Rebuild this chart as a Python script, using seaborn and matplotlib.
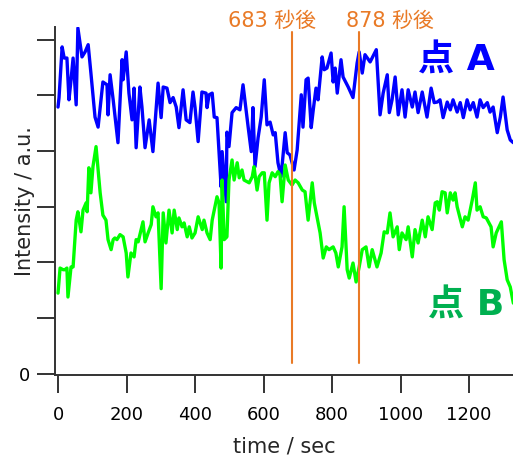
import numpy as np
import pandas as pd
import matplotlib
matplotlib.use("Agg")
import matplotlib.pyplot as plt
import seaborn as sns

# 点 A (blue)
time_a = [0, 3, 12, 18, 26, 32, 38, 44, 53, 58,
          70, 79, 88, 96, 108, 117, 131, 143, 146, 152,
          161, 175, 187, 190, 199, 207, 216, 222, 228, 239,
          245, 254, 266, 277, 292, 301, 307, 318, 327, 336,
          345, 353, 365, 374, 385, 394, 400, 409, 420, 432,
          435, 441, 450, 456, 464, 476, 479, 491, 493, 499,
          508, 520, 531, 540, 546, 555, 564, 569, 575, 584,
          593, 602, 610, 619, 628, 634, 642, 651, 663, 669,
          677, 689, 698, 710, 715, 724, 730, 739, 745, 753,
          759, 771, 777, 785, 797, 803, 809, 815, 826, 832,
          847, 861, 873, 879, 888, 896, 911, 929, 940, 949,
          961, 967, 975, 984, 993, 1004, 1013, 1022, 1034, 1042,
          1051, 1063, 1077, 1089, 1098, 1107, 1115, 1124, 1136, 1145,
          1153, 1165, 1174, 1183, 1194, 1203, 1212, 1223, 1232, 1241,
          1253, 1261, 1270, 1282, 1291, 1299, 1311, 1320, 1329]
int_a = [4.79, 4.96, 5.87, 5.67, 5.67, 4.92, 5.28, 5.67, 4.83, 6.21,
         5.69, 5.78, 5.91, 5.40, 4.61, 4.43, 5.24, 5.19, 4.65, 5.37,
         4.92, 4.15, 5.64, 5.28, 5.78, 5.04, 4.56, 5.13, 4.06, 5.15,
         4.79, 4.06, 4.56, 3.99, 5.22, 4.60, 5.15, 5.13, 4.87, 4.96,
         4.79, 4.42, 5.10, 4.56, 4.51, 5.06, 4.78, 4.17, 5.06, 5.04,
         4.78, 5.01, 5.04, 4.61, 4.60, 3.36, 3.99, 3.09, 4.34, 4.08,
         4.69, 4.78, 4.74, 5.19, 4.88, 4.43, 3.99, 4.78, 3.72, 4.24,
         4.61, 5.28, 4.47, 4.52, 4.29, 4.33, 3.79, 3.54, 4.33, 3.97,
         3.93, 3.66, 4.02, 5.01, 4.43, 5.28, 5.31, 4.42, 4.74, 5.13,
         4.92, 5.69, 5.46, 5.49, 5.76, 5.24, 5.49, 5.04, 5.64, 5.33,
         5.15, 4.96, 5.58, 5.78, 5.40, 5.73, 5.60, 5.82, 4.65, 5.04,
         5.37, 4.69, 4.92, 5.33, 4.65, 5.10, 4.61, 5.10, 4.79, 5.06,
         4.69, 5.06, 4.61, 5.13, 4.87, 4.88, 4.92, 4.60, 4.88, 4.74,
         4.92, 4.70, 4.87, 4.60, 4.92, 4.74, 4.87, 4.61, 4.92, 4.78,
         4.87, 4.70, 4.79, 4.33, 4.61, 4.97, 4.38, 4.20, 4.15]

# 点 B (green)
time_b = [0, 6, 15, 20, 26, 29, 38, 44, 53, 58,
          67, 73, 82, 85, 90, 96, 102, 111, 117, 123,
          131, 140, 146, 155, 161, 166, 172, 181, 190, 199,
          204, 213, 222, 228, 234, 248, 254, 263, 272, 277,
          286, 292, 301, 307, 315, 324, 333, 339, 348, 353,
          362, 368, 377, 383, 391, 400, 409, 421, 426, 435,
          444, 450, 464, 470, 476, 479, 485, 493, 499, 508,
          514, 523, 529, 537, 543, 552, 558, 567, 572, 581,
          587, 596, 602, 610, 616, 625, 634, 642, 648, 654,
          663, 672, 683, 692, 701, 713, 721, 730, 742, 748,
          756, 765, 774, 783, 791, 803, 811, 818, 829, 835,
          844, 850, 861, 870, 879, 888, 899, 908, 917, 931,
          943, 952, 961, 969, 978, 990, 996, 1004, 1016, 1022,
          1034, 1042, 1051, 1063, 1072, 1080, 1092, 1101, 1107, 1113,
          1121, 1130, 1136, 1145, 1153, 1159, 1165, 1180, 1188, 1197,
          1209, 1218, 1223, 1232, 1241, 1250, 1256, 1264, 1270, 1279,
          1294, 1302, 1311, 1320, 1329]
int_b = [1.45, 1.90, 1.87, 1.87, 1.90, 1.38, 1.92, 1.92, 2.76, 2.91,
         2.55, 2.94, 3.07, 2.91, 3.70, 3.25, 3.72, 4.08, 3.66, 3.25,
         2.85, 2.76, 2.41, 2.23, 2.41, 2.44, 2.41, 2.50, 2.46, 2.17,
         1.74, 2.17, 2.10, 2.41, 2.37, 2.73, 2.37, 2.53, 2.68, 3.00,
         2.82, 2.89, 1.53, 2.89, 2.35, 2.94, 2.53, 2.94, 2.59, 2.80,
         2.64, 2.71, 2.46, 2.64, 2.44, 2.53, 2.82, 2.59, 2.76, 2.53,
         2.41, 2.76, 3.18, 3.07, 1.90, 3.48, 2.41, 2.46, 3.48, 3.84,
         3.48, 3.79, 3.52, 3.66, 3.48, 3.45, 3.43, 3.54, 3.72, 3.30,
         3.54, 3.61, 3.61, 2.76, 3.43, 3.61, 3.54, 3.63, 3.57, 3.09,
         3.75, 3.48, 3.39, 3.48, 3.43, 3.30, 3.27, 2.76, 3.43, 3.07,
         2.82, 2.53, 2.08, 2.28, 2.23, 2.28, 2.17, 1.92, 2.28, 3.00,
         1.87, 1.72, 1.99, 1.65, 1.92, 2.23, 2.28, 1.92, 2.23, 1.92,
         2.17, 2.55, 2.53, 2.89, 2.46, 2.64, 2.23, 2.53, 2.41, 2.64,
         2.10, 2.59, 2.35, 2.76, 2.46, 2.82, 2.59, 3.07, 3.09, 2.94,
         3.27, 3.25, 2.89, 3.25, 3.12, 3.25, 3.00, 2.64, 2.82, 2.76,
         3.12, 3.43, 2.94, 3.00, 2.82, 2.80, 2.73, 2.64, 2.28, 2.53,
         2.73, 2.05, 1.69, 1.56, 1.27]

marker_times = [683, 878]
marker_labels = ["683 秒後", "878 秒後"]
x_ticks = [0, 200, 400, 600, 800, 1000, 1200]
y_ticks = [0, 1, 2, 3, 4, 5, 6]

df_a = pd.DataFrame({"time": time_a, "intensity": int_a})
df_b = pd.DataFrame({"time": time_b, "intensity": int_b})

sns.set_style("ticks")
plt.rcParams["font.family"] = ["DejaVu Sans", "Noto Sans CJK JP"]

fig = plt.figure(figsize=(5.13, 4.57), dpi=100)
ax = fig.add_axes([55 / 513, 82 / 457, 458 / 513, 347.6 / 457])

sns.lineplot(data=df_a, x="time", y="intensity", ax=ax, color="#0000ff",
             linewidth=2.4, sort=False, estimator=None)
sns.lineplot(data=df_b, x="time", y="intensity", ax=ax, color="#00ff00",
             linewidth=2.4, sort=False, estimator=None)

orange = "#e97a26"
for t in marker_times:
    ax.plot([t, t], [0.2, 6.14], color=orange, lw=1.5, clip_on=False)
ax.text(625, 6.34, marker_labels[0], color=orange, fontsize=15,
        ha="center", va="center", clip_on=False)
ax.text(969, 6.34, marker_labels[1], color=orange, fontsize=15,
        ha="center", va="center", clip_on=False)

ax.text(1162, 5.62, "点 A", color="#0000ff", fontsize=26, fontweight="bold",
        ha="center", va="center", family=["DejaVu Sans", "Noto Sans CJK JP"])
ax.text(1191, 1.22, "点 B", color="#00b050", fontsize=26, fontweight="bold",
        ha="center", va="center", family=["DejaVu Sans", "Noto Sans CJK JP"])

ax.set_xlim(-8.8, 1328)
ax.set_ylim(-0.02, 6.22)
ax.set_xticks(x_ticks)
ax.set_xticklabels([str(v) for v in x_ticks])
ax.set_yticks(y_ticks)
ax.set_yticklabels(["0"] + [""] * (len(y_ticks) - 1))

ax.set_xlabel("time / sec", fontsize=15, labelpad=9)
ax.set_ylabel("Intensity / a.u.", fontsize=15, va="center")
ax.yaxis.set_label_coords(-0.066, 0.5)

for s in ["top", "right"]:
    ax.spines[s].set_visible(False)
for s in ["left", "bottom"]:
    ax.spines[s].set_color("#333333")
    ax.spines[s].set_linewidth(1.4)
ax.tick_params(axis="both", direction="out", length=13, width=1.4,
               color="#333333", labelsize=13, labelcolor="black")
ax.tick_params(axis="x", pad=9)
ax.tick_params(axis="y", pad=5)

fig.savefig("out.png", dpi=100)
